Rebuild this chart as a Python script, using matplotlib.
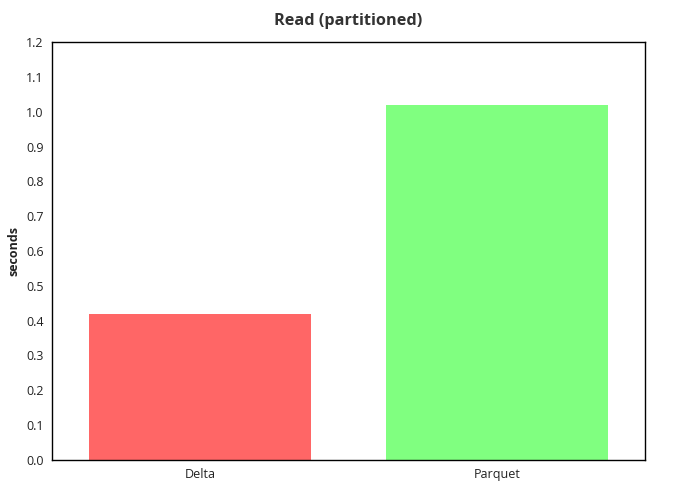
import matplotlib
matplotlib.use("Agg")
import matplotlib.pyplot as plt

categories = ["Delta", "Parquet"]
values = [0.42, 1.02]
colors = ["#ff6666", "#80ff80"]
yticks = [0.0, 0.1, 0.2, 0.3, 0.4, 0.5, 0.6, 0.7, 0.8, 0.9, 1.0, 1.1, 1.2]

plt.rcParams['font.family'] = ['Open Sans', 'DejaVu Sans']

fig = plt.figure(figsize=(7, 5), dpi=100)
ax = fig.add_axes([0.0743, 0.08, 0.8471, 0.836])
ax.bar(range(len(categories)), values, width=0.75, color=colors)
ax.set_xlim(-0.5, len(categories) - 0.5)
ax.set_ylim(0, 1.2)
ax.set_yticks(yticks)
ax.set_yticklabels([f"{v:.1f}" for v in yticks])
ax.set_xticks(range(len(categories)))
ax.set_xticklabels(categories)
ax.tick_params(length=0, labelsize=9, colors="#222222", pad=6)
ax.set_ylabel("seconds", fontsize=9, fontweight="bold", color="#222222", labelpad=4)
ax.set_title("Read (partitioned)", fontsize=11.7, fontweight="bold", color="#333333", pad=12)
for s in ax.spines.values():
    s.set_color("black")
    s.set_linewidth(1)
fig.savefig("out.png", dpi=100)
